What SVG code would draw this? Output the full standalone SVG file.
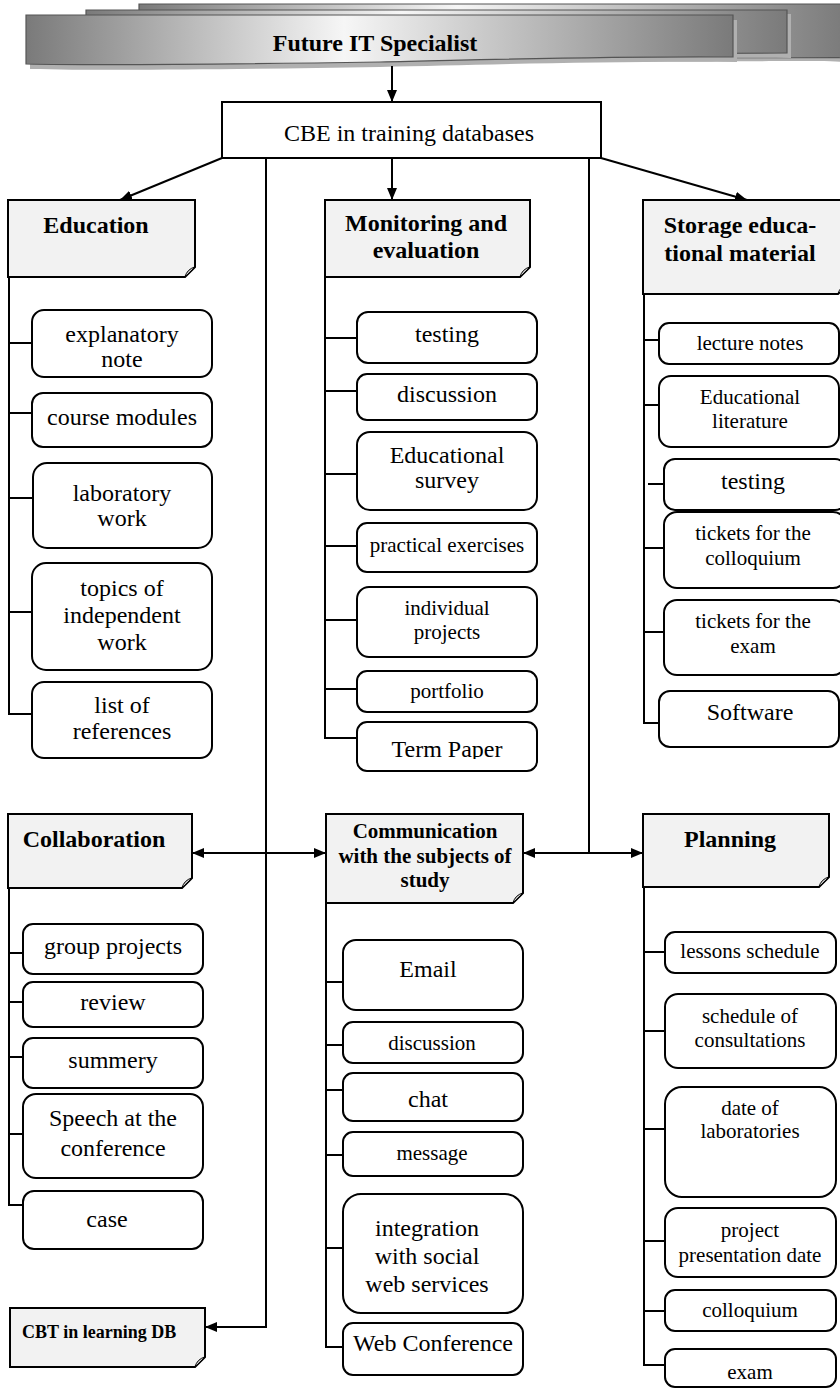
<svg xmlns="http://www.w3.org/2000/svg" width="840" height="1388" viewBox="0 0 840 1388">
<style>
  .t { font-family: "Liberation Serif", "Times New Roman", serif; fill: #000; text-anchor: middle; }
  .s24 { font-size: 24px; }
  .s21 { font-size: 21px; }
  .b { font-weight: bold; }
  .item { fill: #fff; stroke: #000; stroke-width: 2; }
  .card { fill: #f2f2f2; stroke: #000; stroke-width: 2; }
  .fold { fill: #c8c8c8; stroke: #000; stroke-width: 1; }
  .box { fill: #fff; stroke: #000; stroke-width: 2; }
  .ln { fill: none; stroke: #000; stroke-width: 2; }
  .ban { fill: url(#bannerGrad); stroke: #555; stroke-width: 1.2; }
  .shadow { fill: #b0b0b0; }
</style>
<defs>
  <linearGradient id="bannerGrad" x1="0" y1="0" x2="1" y2="0">
    <stop offset="0" stop-color="#7a7a7a"/>
    <stop offset="0.45" stop-color="#f6f6f6"/>
    <stop offset="1" stop-color="#7a7a7a"/>
  </linearGradient>
  <marker id="ah" viewBox="0 0 12 10" refX="12" refY="5" markerWidth="12" markerHeight="10" markerUnits="userSpaceOnUse" orient="auto-start-reverse">
    <path d="M0,0 L12,5 L0,10 Z" fill="#000"/>
  </marker>
  <clipPath id="clipTerm"><rect x="357" y="722" width="180" height="37"/></clipPath>
</defs>

<g id="title">
  <path class="shadow" d="M143,8 H850 V62 C800,60 790,62 143,62 Z"/>
  <path class="ban" d="M139,4 H846 V58 C800,56 790,58 139,58 Z"/>
  <path class="shadow" d="M90,14 H791 V58 C700,57 600,60 90,60 Z"/>
  <path class="ban" d="M86,10 H787 V53 C700,52 600,55 86,56 Z"/>
  <path class="shadow" d="M30,20 H737 V62 C600,61 480,65 380,67 C250,69 120,71 30,69 Z"/>
  <path class="ban" d="M26,15 H733 V57 C600,56 480,60 380,62 C250,64 120,66 26,64 Z"/>
  <text class="t s24 b" x="375" y="51">Future IT Specialist</text>
</g>

<g id="cbe">
  <rect class="box" x="222" y="102" width="379" height="56"/>
  <text class="t s24" x="409" y="141">CBE in training databases</text>
</g>

<g id="connectors">
  <path class="ln" d="M392,66 V102" marker-end="url(#ah)"/>
  <path class="ln" d="M222,158 L120,200" marker-end="url(#ah)"/>
  <path class="ln" d="M392,158 V200" marker-end="url(#ah)"/>
  <path class="ln" d="M601,158 L747,200" marker-end="url(#ah)"/>
  <path class="ln" d="M266,158 V1327 H205" marker-end="url(#ah)"/>
  <path class="ln" d="M192,853 H326" marker-start="url(#ah)" marker-end="url(#ah)"/>
  <path class="ln" d="M589,158 V853"/>
  <path class="ln" d="M523,853 H643" marker-start="url(#ah)" marker-end="url(#ah)"/>
  <path class="ln" d="M9,277 V714 H32 M9,343 H32 M9,413 H32 M9,498 H33 M9,612 H32"/>
  <path class="ln" d="M325,277 V738 H357 M325,338 H357 M325,391 H357 M325,474 H357 M325,546 H357 M325,620 H357 M325,689 H357"/>
  <path class="ln" d="M644,273 V723 H659 M644,340 H659 M644,405 H659 M648,484 H664 M644,548 H664 M644,632 H664"/>
  <path class="ln" d="M9,888 V1205 H23 M9,953 H23 M9,1002 H23 M9,1057 H23 M9,1134 H23"/>
  <path class="ln" d="M326,903 V1347 H343 M326,982 H343 M326,1045 H343 M326,1090 H343 M326,1155 H343 M326,1248 H343"/>
  <path class="ln" d="M644,887 V1365 H665 M644,952 H665 M644,1031 H665 M644,1129 H665 M644,1241 H665 M644,1311 H665"/>
</g>

<g id="education">
  <path class="card" d="M8,200 H195 V267 L185,277 H8 Z"/>
  <path class="fold" d="M185,277 Q187,269 195,267 Q190,272 185,277 Z"/>
  <text class="t s24 b" x="96" y="233">Education</text>
</g>
<g id="edu-explanatory">
  <rect class="item" x="32" y="310" width="180" height="67" rx="12"/>
  <text class="t s24" x="122" y="342">explanatory</text>
  <text class="t s24" x="122" y="367">note</text>
</g>
<g id="edu-modules">
  <rect class="item" x="32" y="393" width="180" height="54" rx="11"/>
  <text class="t s24" x="122" y="425">course modules</text>
</g>
<g id="edu-lab">
  <rect class="item" x="33" y="463" width="179" height="85" rx="14"/>
  <text class="t s24" x="122" y="501">laboratory</text>
  <text class="t s24" x="122" y="526">work</text>
</g>
<g id="edu-topics">
  <rect class="item" x="32" y="563" width="180" height="107" rx="14"/>
  <text class="t s24" x="122" y="596">topics of</text>
  <text class="t s24" x="122" y="623">independent</text>
  <text class="t s24" x="122" y="650">work</text>
</g>
<g id="edu-refs">
  <rect class="item" x="32" y="682" width="180" height="76" rx="12"/>
  <text class="t s24" x="122" y="713">list of</text>
  <text class="t s24" x="122" y="739">references</text>
</g>

<g id="monitoring">
  <path class="card" d="M325,200 H530 V267 L520,277 H325 Z"/>
  <path class="fold" d="M520,277 Q522,269 530,267 Q525,272 520,277 Z"/>
  <text class="t s24 b" x="426" y="231">Monitoring and</text>
  <text class="t s24 b" x="426" y="258">evaluation</text>
</g>
<g id="mon-testing">
  <rect class="item" x="357" y="312" width="180" height="51" rx="11"/>
  <text class="t s24" x="447" y="342">testing</text>
</g>
<g id="mon-discussion">
  <rect class="item" x="357" y="374" width="180" height="46" rx="10"/>
  <text class="t s24" x="447" y="402">discussion</text>
</g>
<g id="mon-survey">
  <rect class="item" x="357" y="432" width="180" height="78" rx="13"/>
  <text class="t s24" x="447" y="463">Educational</text>
  <text class="t s24" x="447" y="488">survey</text>
</g>
<g id="mon-practical">
  <rect class="item" x="357" y="523" width="180" height="49" rx="10"/>
  <text class="t s21" x="447" y="552">practical exercises</text>
</g>
<g id="mon-individual">
  <rect class="item" x="357" y="587" width="180" height="70" rx="12"/>
  <text class="t s21" x="447" y="615">individual</text>
  <text class="t s21" x="447" y="639">projects</text>
</g>
<g id="mon-portfolio">
  <rect class="item" x="357" y="671" width="180" height="41" rx="10"/>
  <text class="t s21" x="447" y="698">portfolio</text>
</g>
<g id="mon-term">
  <rect class="item" x="357" y="722" width="180" height="49" rx="10"/>
  <text class="t s24" x="447" y="757" clip-path="url(#clipTerm)">Term Paper</text>
</g>

<g id="storage">
  <path class="card" d="M643,200 H848 V284 L838,294 H643 Z"/>
  <path class="fold" d="M838,294 Q840,286 848,284 Q843,289 838,294 Z"/>
  <text class="t s24 b" x="740" y="233">Storage educa-</text>
  <text class="t s24 b" x="740" y="261">tional material</text>
</g>
<g id="sto-lecture">
  <rect class="item" x="659" y="323" width="180" height="41" rx="10"/>
  <text class="t s21" x="750" y="350">lecture notes</text>
</g>
<g id="sto-literature">
  <rect class="item" x="659" y="376" width="180" height="71" rx="12"/>
  <text class="t s21" x="750" y="404">Educational</text>
  <text class="t s21" x="750" y="428">literature</text>
</g>
<g id="sto-testing">
  <rect class="item" x="664" y="459" width="182" height="51" rx="11"/>
  <text class="t s24" x="753" y="489">testing</text>
</g>
<g id="sto-colloquium">
  <rect class="item" x="664" y="512" width="182" height="76" rx="13"/>
  <text class="t s21" x="753" y="540">tickets for the</text>
  <text class="t s21" x="753" y="565">colloquium</text>
</g>
<g id="sto-exam">
  <rect class="item" x="664" y="600" width="182" height="75" rx="13"/>
  <text class="t s21" x="753" y="628">tickets for the</text>
  <text class="t s21" x="753" y="653">exam</text>
</g>
<g id="sto-software">
  <rect class="item" x="659" y="691" width="180" height="56" rx="11"/>
  <text class="t s24" x="750" y="720">Software</text>
</g>

<g id="collaboration">
  <path class="card" d="M8,814 H192 V878 L182,888 H8 Z"/>
  <path class="fold" d="M182,888 Q184,880 192,878 Q187,883 182,888 Z"/>
  <text class="t s24 b" x="94" y="847">Collaboration</text>
</g>
<g id="col-group">
  <rect class="item" x="23" y="924" width="180" height="50" rx="10"/>
  <text class="t s24" x="113" y="954">group projects</text>
</g>
<g id="col-review">
  <rect class="item" x="23" y="982" width="180" height="45" rx="10"/>
  <text class="t s24" x="113" y="1010">review</text>
</g>
<g id="col-summery">
  <rect class="item" x="23" y="1038" width="180" height="50" rx="10"/>
  <text class="t s24" x="113" y="1068">summery</text>
</g>
<g id="col-speech">
  <rect class="item" x="23" y="1094" width="180" height="84" rx="13"/>
  <text class="t s24" x="113" y="1126">Speech at the</text>
  <text class="t s24" x="113" y="1156">conference</text>
</g>
<g id="col-case">
  <rect class="item" x="23" y="1191" width="180" height="58" rx="11"/>
  <text class="t s24" x="107" y="1227">case</text>
</g>

<g id="communication">
  <path class="card" d="M326,814 H523 V893 L513,903 H326 Z"/>
  <path class="fold" d="M513,903 Q515,895 523,893 Q518,898 513,903 Z"/>
  <text class="t s21 b" x="425" y="838">Communication</text>
  <text class="t s21 b" x="425" y="863">with the subjects of</text>
  <text class="t s21 b" x="425" y="887">study</text>
</g>
<g id="com-email">
  <rect class="item" x="343" y="940" width="180" height="70" rx="13"/>
  <text class="t s24" x="428" y="977">Email</text>
</g>
<g id="com-discussion">
  <rect class="item" x="343" y="1022" width="180" height="41" rx="10"/>
  <text class="t s21" x="432" y="1050">discussion</text>
</g>
<g id="com-chat">
  <rect class="item" x="343" y="1073" width="180" height="48" rx="10"/>
  <text class="t s24" x="428" y="1107">chat</text>
</g>
<g id="com-message">
  <rect class="item" x="343" y="1132" width="180" height="44" rx="10"/>
  <text class="t s21" x="432" y="1160">message</text>
</g>
<g id="com-integration">
  <rect class="item" x="343" y="1194" width="180" height="119" rx="18"/>
  <text class="t s24" x="427" y="1236">integration</text>
  <text class="t s24" x="427" y="1264">with social</text>
  <text class="t s24" x="427" y="1292">web services</text>
</g>
<g id="com-webconf">
  <rect class="item" x="343" y="1323" width="180" height="52" rx="10"/>
  <text class="t s24" x="433" y="1351">Web Conference</text>
</g>

<g id="planning">
  <path class="card" d="M643,814 H829 V877 L819,887 H643 Z"/>
  <path class="fold" d="M819,887 Q821,879 829,877 Q824,882 819,887 Z"/>
  <text class="t s24 b" x="730" y="847">Planning</text>
</g>
<g id="pl-lessons">
  <rect class="item" x="665" y="932" width="171" height="41" rx="10"/>
  <text class="t s21" x="750" y="958">lessons schedule</text>
</g>
<g id="pl-consult">
  <rect class="item" x="665" y="994" width="171" height="74" rx="13"/>
  <text class="t s21" x="750" y="1023">schedule of</text>
  <text class="t s21" x="750" y="1047">consultations</text>
</g>
<g id="pl-labs">
  <rect class="item" x="665" y="1087" width="171" height="110" rx="17"/>
  <text class="t s21" x="750" y="1115">date of</text>
  <text class="t s21" x="750" y="1138">laboratories</text>
</g>
<g id="pl-project">
  <rect class="item" x="665" y="1208" width="171" height="69" rx="13"/>
  <text class="t s21" x="750" y="1237">project</text>
  <text class="t s21" x="750" y="1262">presentation date</text>
</g>
<g id="pl-colloquium">
  <rect class="item" x="665" y="1290" width="171" height="41" rx="10"/>
  <text class="t s21" x="750" y="1317">colloquium</text>
</g>
<g id="pl-exam">
  <rect class="item" x="665" y="1349" width="171" height="38" rx="10"/>
  <text class="t s21" x="750" y="1379">exam</text>
</g>

<g id="cbt">
  <path class="card" d="M10,1308 H205 V1357 L195,1367 H10 Z"/>
  <path class="fold" d="M195,1367 Q197,1359 205,1357 Q200,1362 195,1367 Z"/>
  <text class="t b" style="font-size:18px;text-anchor:start" x="22" y="1338">CBT in learning DB</text>
</g>
</svg>
